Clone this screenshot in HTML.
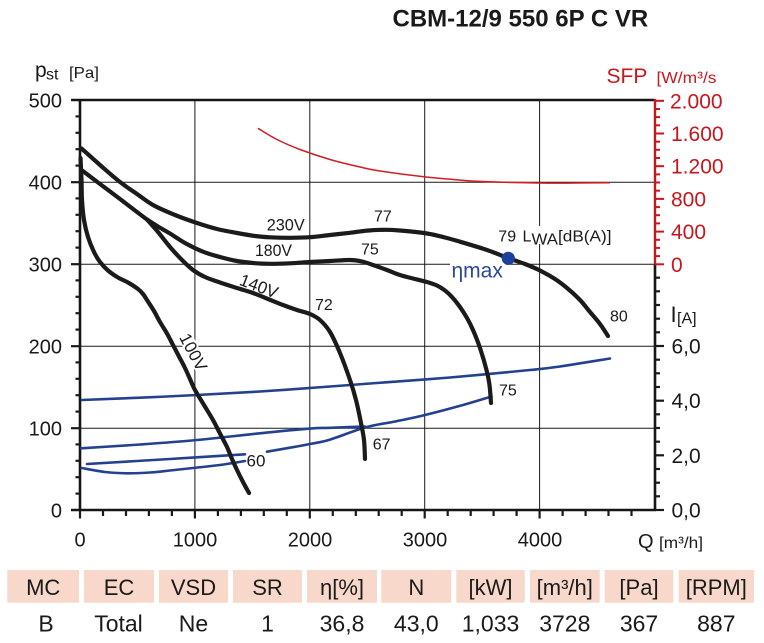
<!DOCTYPE html>
<html><head><meta charset="utf-8"><style>
html,body{margin:0;padding:0;background:#fff;}
svg{display:block;font-family:"Liberation Sans",Arial,sans-serif;}
</style></head><body>
<svg id="chart" width="764" height="643" viewBox="0 0 764 643" xmlns="http://www.w3.org/2000/svg">
<rect width="764" height="643" fill="#fff"/>
<!-- title -->
<text x="392.5" y="26.5" font-size="24" font-weight="bold" fill="#1a1a1a">CBM-12/9 550 6P C VR</text>

<!-- grid -->
<g stroke="#1a1a1a" stroke-width="1">
<line x1="194.9" y1="100" x2="194.9" y2="510"/>
<line x1="309.8" y1="100" x2="309.8" y2="510"/>
<line x1="424.7" y1="100" x2="424.7" y2="510"/>
<line x1="539.6" y1="100" x2="539.6" y2="510"/>
<line x1="80" y1="182.2" x2="655" y2="182.2"/>
<line x1="80" y1="264.2" x2="655" y2="264.2"/>
<line x1="80" y1="346.2" x2="655" y2="346.2"/>
<line x1="80" y1="428.2" x2="655" y2="428.2"/>
</g>

<!-- frame -->
<g stroke="#161616" stroke-width="2.6" fill="none">
<line x1="71" y1="100" x2="655" y2="100"/>
<line x1="80" y1="99" x2="80" y2="511"/>
<line x1="71" y1="510" x2="656" y2="510"/>
<line x1="655" y1="264" x2="655" y2="511"/>
</g>
<line x1="655" y1="99" x2="655" y2="264.5" stroke="#c8161e" stroke-width="2.4"/>

<!-- left ticks -->
<g stroke="#1a1a1a" stroke-width="2.2">
<line x1="71" y1="182.2" x2="80" y2="182.2"/><line x1="71" y1="264.2" x2="80" y2="264.2"/>
<line x1="71" y1="346.2" x2="80" y2="346.2"/><line x1="71" y1="428.2" x2="80" y2="428.2"/>
<line x1="75.5" y1="116.4" x2="80" y2="116.4"/><line x1="75.5" y1="132.8" x2="80" y2="132.8"/><line x1="75.5" y1="149.2" x2="80" y2="149.2"/><line x1="75.5" y1="165.6" x2="80" y2="165.6"/>
<line x1="75.5" y1="198.4" x2="80" y2="198.4"/><line x1="75.5" y1="214.8" x2="80" y2="214.8"/><line x1="75.5" y1="231.2" x2="80" y2="231.2"/><line x1="75.5" y1="247.6" x2="80" y2="247.6"/>
<line x1="75.5" y1="280.4" x2="80" y2="280.4"/><line x1="75.5" y1="296.8" x2="80" y2="296.8"/><line x1="75.5" y1="313.2" x2="80" y2="313.2"/><line x1="75.5" y1="329.6" x2="80" y2="329.6"/>
<line x1="75.5" y1="362.4" x2="80" y2="362.4"/><line x1="75.5" y1="378.8" x2="80" y2="378.8"/><line x1="75.5" y1="395.2" x2="80" y2="395.2"/><line x1="75.5" y1="411.6" x2="80" y2="411.6"/>
<line x1="75.5" y1="444.4" x2="80" y2="444.4"/><line x1="75.5" y1="460.8" x2="80" y2="460.8"/><line x1="75.5" y1="477.2" x2="80" y2="477.2"/><line x1="75.5" y1="493.6" x2="80" y2="493.6"/>
</g>
<!-- bottom ticks -->
<g stroke="#1a1a1a" stroke-width="2.2">
<line x1="80" y1="510" x2="80" y2="518.5"/><line x1="194.9" y1="510" x2="194.9" y2="518.5"/><line x1="309.8" y1="510" x2="309.8" y2="518.5"/><line x1="424.7" y1="510" x2="424.7" y2="518.5"/><line x1="539.6" y1="510" x2="539.6" y2="518.5"/>
<line x1="103" y1="510" x2="103" y2="516"/><line x1="126" y1="510" x2="126" y2="516"/><line x1="148.9" y1="510" x2="148.9" y2="516"/><line x1="171.9" y1="510" x2="171.9" y2="516"/>
<line x1="217.9" y1="510" x2="217.9" y2="516"/><line x1="240.9" y1="510" x2="240.9" y2="516"/><line x1="263.8" y1="510" x2="263.8" y2="516"/><line x1="286.8" y1="510" x2="286.8" y2="516"/>
<line x1="332.8" y1="510" x2="332.8" y2="516"/><line x1="355.8" y1="510" x2="355.8" y2="516"/><line x1="378.7" y1="510" x2="378.7" y2="516"/><line x1="401.7" y1="510" x2="401.7" y2="516"/>
<line x1="447.7" y1="510" x2="447.7" y2="516"/><line x1="470.7" y1="510" x2="470.7" y2="516"/><line x1="493.6" y1="510" x2="493.6" y2="516"/><line x1="516.6" y1="510" x2="516.6" y2="516"/>
<line x1="562.6" y1="510" x2="562.6" y2="516"/><line x1="585.6" y1="510" x2="585.6" y2="516"/><line x1="608.5" y1="510" x2="608.5" y2="516"/><line x1="631.5" y1="510" x2="631.5" y2="516"/>
</g>
<!-- right I ticks -->
<g stroke="#1a1a1a" stroke-width="2.2">
<line x1="655" y1="510" x2="664" y2="510"/><line x1="655" y1="455.3" x2="664" y2="455.3"/><line x1="655" y1="400.7" x2="664" y2="400.7"/><line x1="655" y1="346" x2="664" y2="346"/>
<line x1="655" y1="496.3" x2="660" y2="496.3"/><line x1="655" y1="482.7" x2="660" y2="482.7"/><line x1="655" y1="469" x2="660" y2="469"/>
<line x1="655" y1="441.7" x2="660" y2="441.7"/><line x1="655" y1="428" x2="660" y2="428"/><line x1="655" y1="414.3" x2="660" y2="414.3"/>
<line x1="655" y1="387" x2="660" y2="387"/><line x1="655" y1="373.3" x2="660" y2="373.3"/><line x1="655" y1="359.7" x2="660" y2="359.7"/>
<line x1="655" y1="332.3" x2="660" y2="332.3"/><line x1="655" y1="318.7" x2="660" y2="318.7"/><line x1="655" y1="305" x2="660" y2="305"/><line x1="655" y1="291.3" x2="660" y2="291.3"/><line x1="655" y1="277.7" x2="660" y2="277.7"/>
</g>
<!-- right SFP ticks -->
<g stroke="#c8161e" stroke-width="2">
<line x1="655" y1="264.3" x2="664" y2="264.3"/><line x1="655" y1="231.6" x2="664" y2="231.6"/><line x1="655" y1="198.9" x2="664" y2="198.9"/><line x1="655" y1="166.2" x2="664" y2="166.2"/><line x1="655" y1="133.5" x2="664" y2="133.5"/><line x1="655" y1="100.8" x2="664" y2="100.8"/>
<line x1="655" y1="256.1" x2="660" y2="256.1"/><line x1="655" y1="247.9" x2="660" y2="247.9"/><line x1="655" y1="239.8" x2="660" y2="239.8"/>
<line x1="655" y1="223.4" x2="660" y2="223.4"/><line x1="655" y1="215.2" x2="660" y2="215.2"/><line x1="655" y1="207.1" x2="660" y2="207.1"/>
<line x1="655" y1="190.7" x2="660" y2="190.7"/><line x1="655" y1="182.5" x2="660" y2="182.5"/><line x1="655" y1="174.4" x2="660" y2="174.4"/>
<line x1="655" y1="158" x2="660" y2="158"/><line x1="655" y1="149.8" x2="660" y2="149.8"/><line x1="655" y1="141.7" x2="660" y2="141.7"/>
<line x1="655" y1="125.3" x2="660" y2="125.3"/><line x1="655" y1="117.1" x2="660" y2="117.1"/><line x1="655" y1="109" x2="660" y2="109"/>
</g>

<!-- axis labels -->
<g font-size="20" fill="#1a1a1a" text-anchor="end">
<text x="62" y="107.5">500</text><text x="62" y="189.5">400</text><text x="62" y="271.5">300</text>
<text x="62" y="353.5">200</text><text x="62" y="435.5">100</text><text x="62" y="517.3">0</text>
</g>
<g font-size="20" fill="#1a1a1a" text-anchor="middle">
<text x="80" y="546.5">0</text><text x="195" y="546.5">1000</text><text x="310" y="546.5">2000</text>
<text x="425" y="546.5">3000</text><text x="540" y="546.5">4000</text>
</g>
<text x="638" y="548" font-size="20" fill="#1a1a1a">Q</text>
<text x="659" y="548" font-size="16" fill="#1a1a1a" textLength="44" lengthAdjust="spacingAndGlyphs">[m³/h]</text>
<text x="35" y="77" font-size="21" fill="#1a1a1a">p</text>
<text x="46" y="79.5" font-size="16" fill="#1a1a1a">st</text>
<text x="69" y="78" font-size="16" fill="#1a1a1a" textLength="30" lengthAdjust="spacingAndGlyphs">[Pa]</text>

<g font-size="21" fill="#1a1a1a">
<text x="671.5" y="517.5">0,0</text><text x="671.5" y="462.8">2,0</text>
<text x="671.5" y="408.2">4,0</text><text x="671.5" y="353.5">6,0</text>
</g>
<text x="670.5" y="322" font-size="22" fill="#1a1a1a">I</text>
<text x="677" y="323.5" font-size="16" fill="#1a1a1a">[A]</text>

<g font-size="21" fill="#c8161e">
<text x="671" y="271.8">0</text><text x="671" y="239.1">400</text><text x="671" y="206.4">800</text>
<text x="671" y="173.7">1.200</text><text x="671" y="141">1.600</text><text x="670" y="108.3">2.000</text>
</g>
<text x="606.5" y="83" font-size="21" fill="#c8161e">SFP</text>
<text x="656.5" y="83" font-size="16" fill="#c8161e" textLength="60" lengthAdjust="spacingAndGlyphs">[W/m³/s</text>

<!-- SFP curve -->
<polyline class="smooth" fill="none" stroke="#d21c22" stroke-width="1.5" stroke-linejoin="round"
 points="258,128.3 277,139.5 300,149.5 330,159.5 360,167 380,171 424,176.7 480,181.4 540,183 575,183 610,182.7"/>

<!-- blue current lines -->
<g fill="none" stroke="#23418f" stroke-width="2.6" stroke-linecap="round" stroke-linejoin="round">
<polyline class="smooth" points="82,400 140,397.7 197,395 260,391.5 330,386.5 370,383.5 450,377.5 530,370 560,366.5 610,358.5"/>
<polyline class="smooth" points="81,448.3 140,444.5 197,440 260,433.3 310,428.6 330,427.8 365,426.5"/>
<polyline class="smooth" points="87,464 170,459 245,454.3"/>
<polyline class="smooth" points="267,451.7 290,447.7 310,444 330,439.6 365,427.5 395,421.5 423,415.5 463,405 491.5,396.5"/>
<polyline class="smooth" points="81.7,468 105,472 127,473.3 150,472.5 170,470.5 193,468 220,465 245,461"/>
</g>

<!-- black fan curves -->
<g fill="none" stroke="#1b1b1b" stroke-width="4.2" stroke-linecap="round" stroke-linejoin="round">
<!-- 230V -->
<polyline class="smooth" points="81.5,148.5 100,165 120,182 137,194 153,205 175,215 197,223 217,229 237,233 255,236 270,237.3 290,237.8 310,237.2 330,235 350,232.8 367,230.6 385,229.8 400,230.5 427,233.5 445,237.5 460,241.7 487,250 508,258 525,264 540,270.5 555,279 567,288 580,300 590,312 600,324 608,336"/>
<!-- 180V -->
<polyline class="smooth" points="81.5,170 100,184 120,199 137,212 147,219.5 158,226.5 170,233.5 185,243 203,251.7 220,257 237,261 255,263.2 270,263.8 290,263.3 310,262 330,261 350,260 362,261.5 373,265 387,270 400,275 415,279 427,282 437,285.5 445,290.5 452,297 460,307 467,318 473,330 480,348 486.5,370 489.5,385 491,403"/>
<!-- 140V -->
<polyline class="smooth" points="147,219.5 158,232 170,247 182,260 193,270 205,277 220,282.5 237,288 253,293 268,299 283,305 297,310 310,314 320,320 330,332 340,353 350,380 356,400 361,423 364,440 365,459"/>
<!-- 100V -->
<polyline class="smooth" points="80.5,158 81.5,180 82,200 84,220 88,237 94,252 100,262 108,270.5 118,277.5 128,282.5 138,289 143,294 147,300 154,311 160,322 167,333.5 173,345 179,356.5 185,368 190,379 195,390 204,405 213,420 220,433.5 227,447 232,459 237,470 243,482 249,493"/>
</g>

<!-- eta max -->
<rect x="450" y="259" width="56" height="21" fill="#fff"/>
<text x="451.5" y="277.3" font-size="21" fill="#2a489b">ηmax</text>
<circle cx="508.3" cy="258.3" r="6.6" fill="#1f3f9c"/>

<!-- labels -->
<rect x="520" y="226" width="40" height="18" fill="#fff"/>
<g font-size="16" fill="#1a1a1a">
<text x="498.3" y="241.7">79</text>
<text x="522.5" y="241.7">L</text>
<text x="531.5" y="244.5" textLength="26.5" lengthAdjust="spacingAndGlyphs">WA</text>
<text x="558" y="241.7" textLength="53.5" lengthAdjust="spacingAndGlyphs">[dB(A)]</text>
<text x="374" y="221.7">77</text>
<text x="361" y="254.3">75</text>
<text x="315" y="310">72</text>
<text x="610" y="321.7">80</text>
<text x="499" y="395.3">75</text>
<text x="372.7" y="449.3">67</text>
<text x="246.5" y="466.7" font-size="17">60</text>
</g>
<g font-size="17" fill="#1a1a1a">
<text x="266.7" y="230.7" textLength="38" lengthAdjust="spacingAndGlyphs">230V</text>
<text x="255" y="256" textLength="37" lengthAdjust="spacingAndGlyphs">180V</text>
<g transform="translate(259,286) rotate(21)">
<text x="0" y="6" text-anchor="middle">140V</text>
</g>
<g transform="translate(193.5,352) rotate(62)">
<rect x="-20" y="-7" width="40" height="14" fill="#fff"/>
<text x="0" y="6" text-anchor="middle">100V</text>
</g>
</g>

<!-- table -->
<g fill="#f8d8ca">
<rect x="7.3" y="570" width="71.7" height="32.7"/>
<rect x="84" y="570" width="70" height="32.7"/>
<rect x="159" y="570" width="69" height="32.7"/>
<rect x="233" y="570" width="69" height="32.7"/>
<rect x="307" y="570" width="70" height="32.7"/>
<rect x="381.3" y="570" width="70" height="32.7"/>
<rect x="456.3" y="570" width="68.4" height="32.7"/>
<rect x="530" y="570" width="69.7" height="32.7"/>
<rect x="604.7" y="570" width="68.6" height="32.7"/>
<rect x="678.7" y="570" width="75.3" height="32.7"/>
</g>
<g font-size="22" fill="#1a1a1a" text-anchor="middle">
<text x="43.2" y="595">MC</text>
<text x="119" y="595">EC</text>
<text x="193.5" y="595">VSD</text>
<text x="267.5" y="595">SR</text>
<text x="342" y="595">η[%]</text>
<text x="416.3" y="595">N</text>
<text x="490.5" y="595">[kW]</text>
<text x="564.8" y="595">[m³/h]</text>
<text x="639" y="595">[Pa]</text>
<text x="716.3" y="595">[RPM]</text>
</g>
<g font-size="23" fill="#1a1a1a" text-anchor="middle">
<text x="46" y="631.5">B</text>
<text x="118.5" y="631.5">Total</text>
<text x="193.5" y="631.5">Ne</text>
<text x="267.5" y="631.5">1</text>
<text x="342" y="631.5">36,8</text>
<text x="416.3" y="631.5">43,0</text>
<text x="490.5" y="631.5">1,033</text>
<text x="564.8" y="631.5">3728</text>
<text x="639" y="631.5">367</text>
<text x="716.3" y="631.5">887</text>
</g>
</svg>
<script>
(function(){
  try{
    var NS="http://www.w3.org/2000/svg";
    var pls=document.querySelectorAll("polyline.smooth");
    for(var i=0;i<pls.length;i++){
      var pl=pls[i];
      var raw=pl.getAttribute("points").trim().split(/\s+/);
      var p=[];
      for(var j=0;j<raw.length;j++){var xy=raw[j].split(",");p.push([parseFloat(xy[0]),parseFloat(xy[1])]);}
      if(p.length<3) continue;
      var d="M"+p[0][0]+","+p[0][1];
      for(var k=0;k<p.length-1;k++){
        var p0=p[k>0?k-1:0],p1=p[k],p2=p[k+1],p3=p[k+2<p.length?k+2:p.length-1];
        var c1x=p1[0]+(p2[0]-p0[0])/6,c1y=p1[1]+(p2[1]-p0[1])/6;
        var c2x=p2[0]-(p3[0]-p1[0])/6,c2y=p2[1]-(p3[1]-p1[1])/6;
        d+=" C"+c1x.toFixed(2)+","+c1y.toFixed(2)+" "+c2x.toFixed(2)+","+c2y.toFixed(2)+" "+p2[0]+","+p2[1];
      }
      var path=document.createElementNS(NS,"path");
      path.setAttribute("d",d);
      var attrs=["fill","stroke","stroke-width","stroke-linejoin","stroke-linecap"];
      for(var a=0;a<attrs.length;a++){var v=pl.getAttribute(attrs[a]);if(v)path.setAttribute(attrs[a],v);}
      pl.parentNode.replaceChild(path,pl);
    }
  }catch(e){}
})();
</script>
</body></html>
